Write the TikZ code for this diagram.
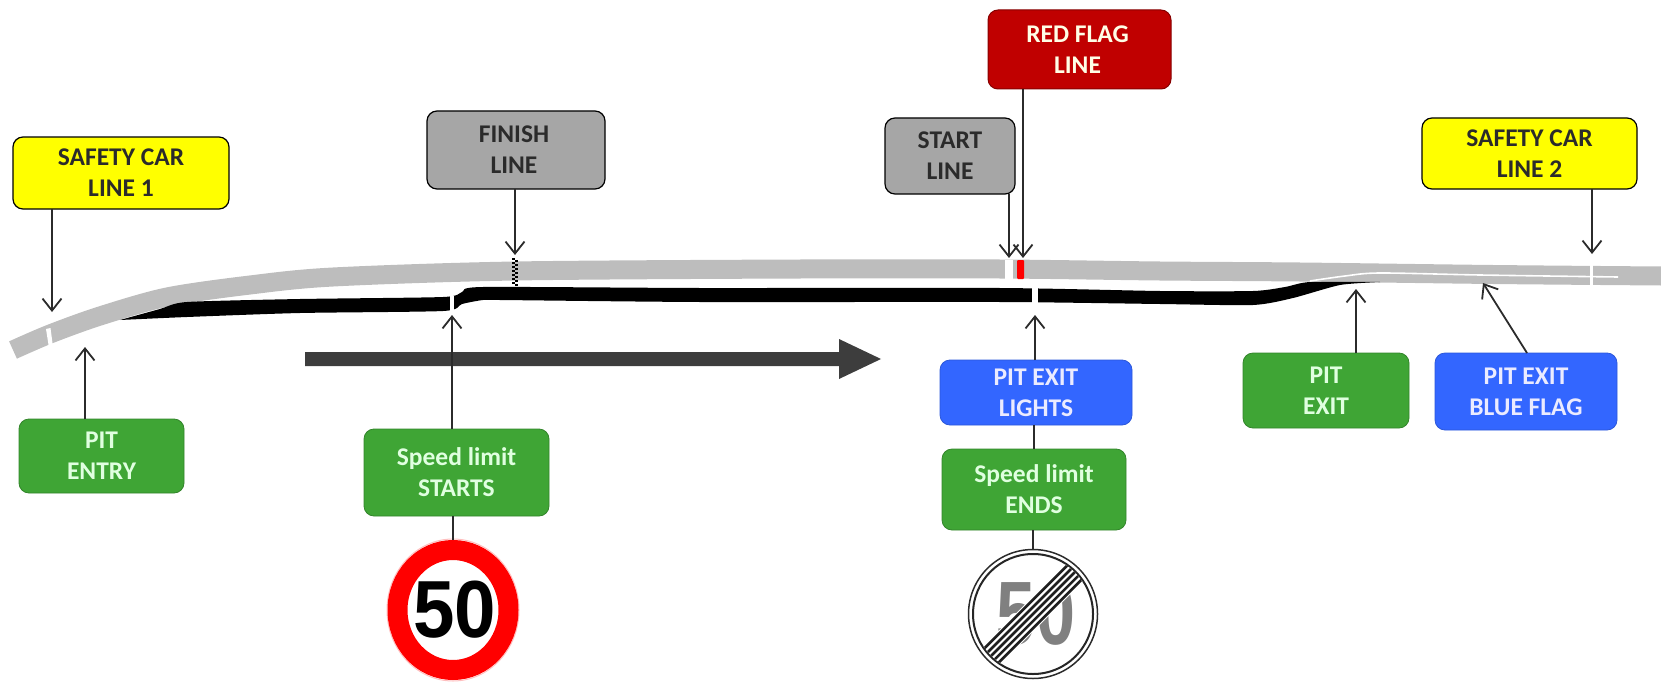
\documentclass[tikz,border=0pt]{standalone}
\usepackage{fontspec}
\usepackage{graphicx}
\setmainfont{Carlito}
\newfontfamily\signfont{Liberation Sans}
\usetikzlibrary{arrows.meta,shapes.geometric}
\definecolor{yel}{HTML}{FFFF00}
\definecolor{gry}{HTML}{A6A6A6}
\definecolor{redf}{HTML}{C00000}
\definecolor{grn}{HTML}{3FA535}
\definecolor{blu}{HTML}{3366FF}
\definecolor{trk}{HTML}{BDBDBD}
\definecolor{ink}{HTML}{2B2B2B}
\tikzset{
  x=1pt,y=-1pt,
  lbl/.style={rounded corners=10pt,align=center,inner sep=0pt,outer sep=0pt,
    font=\fontsize{25.5}{31}\selectfont\bfseries},
  boxsize/.style 2 args={minimum width=#1pt,minimum height=#2pt},
  yelbox/.style={lbl,fill=yel,draw=black,line width=1.2pt,text=ink},
  grybox/.style={lbl,fill=gry,draw=black,line width=1.2pt,text=ink},
  redbox/.style={lbl,fill=redf,draw=redf!70!black,line width=1pt,text=white!90!yellow},
  grnbox/.style={lbl,fill=grn,draw=grn!80!black,line width=.8pt,text=white!88!green},
  blubox/.style={lbl,fill=blu,draw=blu!85!black,line width=.8pt,text=white!92!blue},
  arr/.style={draw=ink,line width=1.8pt,-{Straight Barb[length=12pt,width=19pt,line width=1.8pt]}},
  plain/.style={draw=ink,line width=1.8pt},
}
\begin{document}
\begin{tikzpicture}
\useasboundingbox (0,0) rectangle (1661,682);
% circuit
\draw[trk,line width=19pt] plot[smooth,tension=.5] coordinates {(13,350) (50,334) (100,316) (167,297) (250,285) (333,277) (515,271) (800,269) (1000,269) (1160,271) (1300,272) (1493,274.5) (1661,276)};
\fill[black] plot[smooth,tension=.4] coordinates {(120,320) (160,309) (187,302) (300,299) (443,297) (462,292) (483,287) (700,288) (1000,288) (1160,291) (1253,291) (1285,287) (1310,282) (1380,282)}
  -- plot[smooth,tension=.4] coordinates {(1380,282) (1340,285) (1293,298) (1253,305) (1160,304) (1000,302) (700,302) (500,300) (483,300) (462,304) (443,311) (300,313) (187,317) (120,320)} -- cycle;
\draw[white,line width=1.6pt] plot[smooth,tension=.5] coordinates {(1310,281) (1345,276) (1380,273) (1480,275) (1618,277)};
% marks on the circuit
\fill[white] (46,329) -- (50.5,328) -- (53,347) -- (49,348) -- cycle;
\fill[white] (450,296) rectangle (454,312);
\fill[white] (1005,260) rectangle (1013,279);
\fill[red,rounded corners=1pt] (1017,260) rectangle (1024,279);
\fill[white] (1032,286) rectangle (1038,305);
\fill[white] (1590,264) rectangle (1593,285);
\foreach \i in {0,...,6}{
  \fill[black] (512,258+4*\i) rectangle (515,260+4*\i);
  \fill[black] (515,260+4*\i) rectangle (518,262+4*\i);
}
% main arrow
\fill[black!76] (305,352) -- (839,352) -- (839,339) -- (881,359) -- (839,379) -- (839,366) -- (305,366) -- cycle;
% boxes
\node[yelbox,boxsize={216}{72}] (sca) at (121,173) {SAFETY CAR\\LINE 1};
\node[grybox,boxsize={178}{78}] (fin) at (516,150) {\hspace*{-4pt}FINISH\\\hspace*{-4pt}LINE};
\node[grybox,boxsize={130}{76}] (sta) at (950,156) {START\\LINE};
\node[redbox,boxsize={183}{79}] (rfl) at (1079.5,49.5) {\hspace*{-4pt}RED FLAG\\\hspace*{-4pt}LINE};
\node[yelbox,boxsize={215}{71}] (scb) at (1529.5,153.5) {SAFETY CAR\\LINE 2};
\node[grnbox,boxsize={165}{74}] (pen) at (101.5,456) {PIT\\ENTRY};
\node[grnbox,boxsize={185}{87}] (sls) at (456.5,472.5) {Speed limit\\STARTS};
\node[blubox,boxsize={192}{65}] (pel) at (1036,392.5) {PIT EXIT\\LIGHTS};
\node[grnbox,boxsize={184}{81}] (sle) at (1034,489.5) {Speed limit\\ENDS};
\node[grnbox,boxsize={166}{75}] (pex) at (1326,390.5) {PIT\\EXIT};
\node[blubox,boxsize={182}{77}] (pbf) at (1526,391.5) {PIT EXIT\\BLUE FLAG};
% signs
\draw[red!25,line width=1pt] (453,610) ellipse[x radius=66,y radius=71];
\node[ellipse,draw=red,fill=white,line width=20pt,minimum width=111pt,minimum height=120pt,inner sep=0pt,outer sep=10pt,
  font=\signfont\bfseries\fontsize{81}{81}\selectfont] (lim) at (453,610) {\makebox[0pt]{\hspace*{3pt}\raisebox{-2pt}{\scalebox{.92}[1]{50}}}};
\node[circle,draw=ink,fill=white,line width=1.5pt,minimum size=129pt,inner sep=0pt,outer sep=.75pt,
  text=black!50,font=\signfont\bfseries\fontsize{90}{90}\selectfont] (end) at (1033,614) {\makebox[0pt]{\hspace*{6pt}\scalebox{.78}[1]{50}}};
\draw[black!85,line width=2pt] (end.center) circle[radius=60pt];
\begin{scope}
  \clip (end.center) circle[radius=59pt];
  \draw[white,line width=25pt] ([shift={(-70,70)}]end.center) -- ([shift={(70,-70)}]end.center);
  \foreach \d in {-7.1,-3.55,0,3.55,7.1}{
    \draw[black!88,line width=2.6pt] ([shift={(-70+\d,70+\d)}]end.center) -- ([shift={(70+\d,-70+\d)}]end.center);
  }
\end{scope}
% free ends
\coordinate (ta) at (52,312);
\coordinate (tb) at (515,255);
\coordinate (tc) at (1009,258);
\coordinate (td) at (1023,258);
\coordinate (te) at (1592,254);
\coordinate (tf) at (85,347);
\coordinate (tg) at (452,315);
\coordinate (th) at (1035,315);
\coordinate (ti) at (1356,289);
\coordinate (tj) at (1483,283);
\coordinate (tk) at (1527,353);
% connectors
\draw[arr] (ta |- sca.south) -- (ta);
\draw[arr] (tb |- fin.south) -- (tb);
\draw[arr] (tc |- sta.south) -- (tc);
\draw[arr] (td |- rfl.south) -- (td);
\draw[arr] (te |- scb.south) -- (te);
\draw[arr] (tf |- pen.north) -- (tf);
\draw[arr] (tg |- sls.north) -- (tg);
\draw[arr] (th |- pel.north) -- (th);
\draw[arr] (ti |- pex.north) -- (ti);
\draw[arr] (tk) -- (tj);
\draw[plain] (sls.south -| lim.north) -- (lim.north);
\draw[plain] (pel.south -| sle.north) -- (sle.north);
\draw[plain] (end.north |- sle.south) -- (end.north);
\end{tikzpicture}
\end{document}
